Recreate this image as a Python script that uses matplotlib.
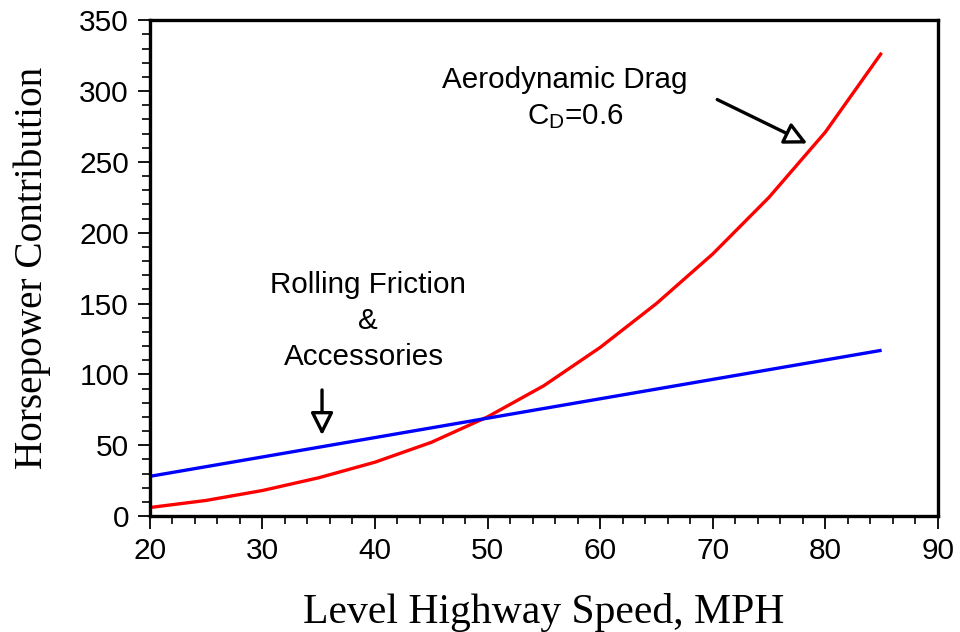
import matplotlib
matplotlib.use("Agg")
import matplotlib.pyplot as plt
from matplotlib.ticker import MultipleLocator

speed = [20, 25, 30, 35, 40, 45, 50, 55, 60, 65, 70, 75, 80, 85]
aero_hp = [6, 11, 18, 27, 38, 52, 70, 92, 119, 150, 185, 225, 271, 327]
roll_speed = [20, 85]
roll_hp = [28, 117]

plt.rcParams['font.family'] = ['Liberation Sans', 'DejaVu Sans']

fig = plt.figure(figsize=(9.6, 6.32), dpi=100)
ax = fig.add_axes([0.156, 0.1835, 0.821, 0.7845])

ax.plot(speed, aero_hp, color='#ff0000', lw=2.4, solid_capstyle='butt', solid_joinstyle='round')
ax.plot(roll_speed, roll_hp, color='#0000ff', lw=2.4, solid_capstyle='butt')

ax.set_xlim(20, 90)
ax.set_ylim(0, 350)
ax.xaxis.set_major_locator(MultipleLocator(10))
ax.xaxis.set_minor_locator(MultipleLocator(2))
ax.yaxis.set_major_locator(MultipleLocator(50))
ax.yaxis.set_minor_locator(MultipleLocator(10))
for s in ax.spines.values():
    s.set_linewidth(2.4)
ax.tick_params(which='major', direction='out', length=9, width=1.3, labelsize=21.5, pad=6)
ax.tick_params(which='minor', direction='out', length=5.5, width=1.2)

ax.set_xlabel('Level Highway Speed, MPH', family=['Liberation Serif'], fontsize=30, labelpad=20)
ax.set_ylabel('Horsepower Contribution', family=['Liberation Serif'], fontsize=28.3, labelpad=20)

tfs = 21.3
ax.text(56.9, 308, 'Aerodynamic Drag', ha='center', va='center', fontsize=tfs)
ax.text(57.8, 282, r'$\mathregular{C_D}$=0.6', ha='center', va='center', fontsize=tfs)
ax.text(39.4, 163, 'Rolling Friction', ha='center', va='center', fontsize=tfs)
ax.text(39.4, 138, '&', ha='center', va='center', fontsize=tfs)
ax.text(39.0, 112, 'Accessories', ha='center', va='center', fontsize=tfs)

ap = dict(arrowstyle='-|>', fc='white', ec='black', lw=2.4, mutation_scale=34, shrinkA=0, shrinkB=0)
ax.annotate('', xy=(78.4, 263), xytext=(70.4, 294), arrowprops=ap)
ax.annotate('', xy=(35.3, 57), xytext=(35.3, 89), arrowprops=ap)

fig.savefig('out.png', dpi=100)
